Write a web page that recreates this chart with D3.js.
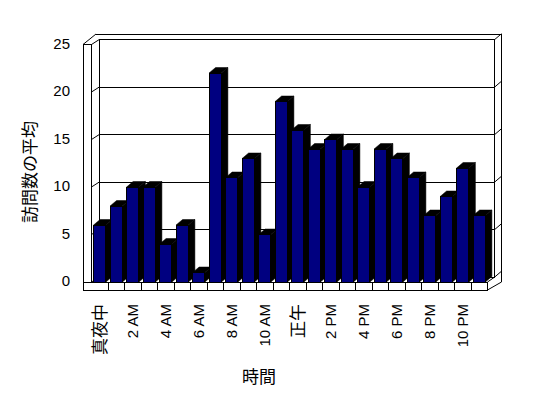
<!DOCTYPE html>
<html>
<head>
<meta charset="utf-8">
<script src="https://d3js.org/d3.v7.min.js"></script>
<style>
  body { margin: 0; background: #fff; }
  svg { display: block; color: #000; font-family: "Liberation Sans", "Noto Sans CJK JP", sans-serif; }
</style>
</head>
<body>
<div id="chart"></div>
<script>
// hours of the day (category axis)
var hours = ["真夜中", "1 AM", "2 AM", "3 AM", "4 AM", "5 AM", "6 AM", "7 AM", "8 AM", "9 AM", "10 AM", "11 AM",
             "正午", "1 PM", "2 PM", "3 PM", "4 PM", "5 PM", "6 PM", "7 PM", "8 PM", "9 PM", "10 PM", "11 PM"];
// average visits per hour
var visits = [6, 8, 10, 10, 4, 6, 1, 22, 11, 13, 5, 19, 16, 14, 15, 14, 10, 14, 13, 11, 7, 9, 12, 7];
var yTicks = [0, 5, 10, 15, 20, 25];
var labelHours = hours.filter(function(d, i) { return i % 2 === 0; });

var width = 548, height = 398;

// front plane of the plot and the 3d offsets
var plotL = 91.5, plotR = 487.5, base = 282, plotT = 44.5;
var wallDx = 7.5, wallDy = -4.8;   // back wall
var barDx = 6.5, barDy = -5.5;     // bar depth
var outerL = 83, outerTop = 34, outerR = 501.5;

var svg = d3.select("#chart").append("svg")
    .attr("width", width)
    .attr("height", height);

var x = d3.scaleBand()
    .domain(hours)
    .range([plotL, plotR])
    .paddingInner(0.255)
    .paddingOuter(0.1275);

var xCat = d3.scaleBand()
    .domain(hours)
    .range([plotL, plotR])
    .padding(0);

var y = d3.scaleLinear()
    .domain([0, 25])
    .range([base, plotT]);

function line(g, x1, y1, x2, y2, crisp) {
  g.append("line")
    .attr("x1", x1).attr("y1", y1).attr("x2", x2).attr("y2", y2)
    .attr("stroke", "#000").attr("stroke-width", 1)
    .attr("shape-rendering", crisp ? "crispEdges" : null);
}

var frame = svg.append("g");
var bl = plotL + wallDx, br = plotR + 7;   // back wall left / right
var backY = function(v) { return y(v) + wallDy; };

// gridlines on back wall, with little ticks on the side walls
yTicks.forEach(function(v) {
  line(frame, bl, backY(v), br, backY(v), true);
  line(frame, plotL, y(v), bl, backY(v));
  line(frame, br, backY(v), outerR, backY(v) - 6);
});

// walls
line(frame, bl, backY(25), bl, backY(0), true);
line(frame, br, backY(25), br, backY(0), true);
line(frame, outerL + 13, outerTop, outerR, outerTop, true);
line(frame, outerR, outerTop, outerR, base, true);
line(frame, outerL, plotT, outerL + 13, outerTop);
line(frame, outerL, plotT, plotL, plotT, true);
line(frame, outerL, plotT, outerL, base + 8, true);
line(frame, plotL, plotT, plotL, base, true);

// floor strip
frame.append("rect")
    .attr("x", outerL).attr("y", base)
    .attr("width", plotR - outerL).attr("height", 8)
    .attr("fill", "#fff").attr("stroke", "#000")
    .attr("shape-rendering", "crispEdges");
hours.slice(1).forEach(function(d) {
  line(frame, xCat(d), base, xCat(d), base + 8, true);
});
line(frame, plotR, base + 8, outerR, base);
line(frame, plotR, base, br, backY(0));

// bars
var bars = svg.append("g");
hours.forEach(function(d, i) {
  var x0 = x(d), w = x.bandwidth(), y0 = y(visits[i]);
  bars.append("polygon")
    .attr("points", [[x0 + w, y0], [x0 + w + barDx, y0 + barDy], [x0 + w + barDx, base + barDy], [x0 + w, base]].join(" "))
    .attr("fill", "#000").attr("stroke", "#000").attr("stroke-width", 0.5);
  bars.append("polygon")
    .attr("points", [[x0, y0], [x0 + barDx, y0 + barDy], [x0 + w + barDx, y0 + barDy], [x0 + w, y0]].join(" "))
    .attr("fill", "#000").attr("stroke", "#000").attr("stroke-width", 0.5);
  bars.append("rect")
    .attr("x", x0).attr("y", y0)
    .attr("width", w).attr("height", base - y0)
    .attr("fill", "#000080")
    .attr("stroke", "#000").attr("stroke-width", 1)
    .attr("shape-rendering", "crispEdges");
});

// y axis labels
var yAxis = svg.append("g")
    .attr("transform", "translate(70,-1)")
    .call(d3.axisLeft(y).tickValues(yTicks).tickSize(0).tickPadding(0));
yAxis.select(".domain").remove();
yAxis.selectAll("text")
    .attr("font-size", "15px")
    .attr("font-family", null)
    .style("fill", "#000");

// x axis labels (every other hour, rotated)
var xAxis = svg.append("g")
    .attr("transform", "translate(0," + (base + 8) + ")")
    .style("opacity", 0.99)
    .call(d3.axisBottom(xCat).tickValues(labelHours).tickSize(0));
xAxis.select(".domain").remove();
xAxis.selectAll("text")
    .attr("transform", "rotate(-90)")
    .attr("text-anchor", "end")
    .attr("x", -14)
    .attr("y", 0)
    .attr("dy", "0.35em")
    .attr("font-family", function(d) { return /[A-Z]/.test(d) ? null : "Noto Sans CJK JP"; })
    .attr("font-size", function(d) { return /[A-Z]/.test(d) ? "15px" : "17px"; })
    .style("fill", "#000");

// axis titles
svg.append("text")
    .attr("transform", "translate(30,172) rotate(-90)")
    .attr("text-anchor", "middle")
    .attr("dy", "0.35em")
    .attr("font-size", "17px")
    .text("訪問数の平均");

svg.append("text")
    .attr("x", 259)
    .attr("y", 377)
    .attr("text-anchor", "middle")
    .attr("dy", "0.35em")
    .attr("font-size", "17px")
    .text("時間");
</script>
</body>
</html>
